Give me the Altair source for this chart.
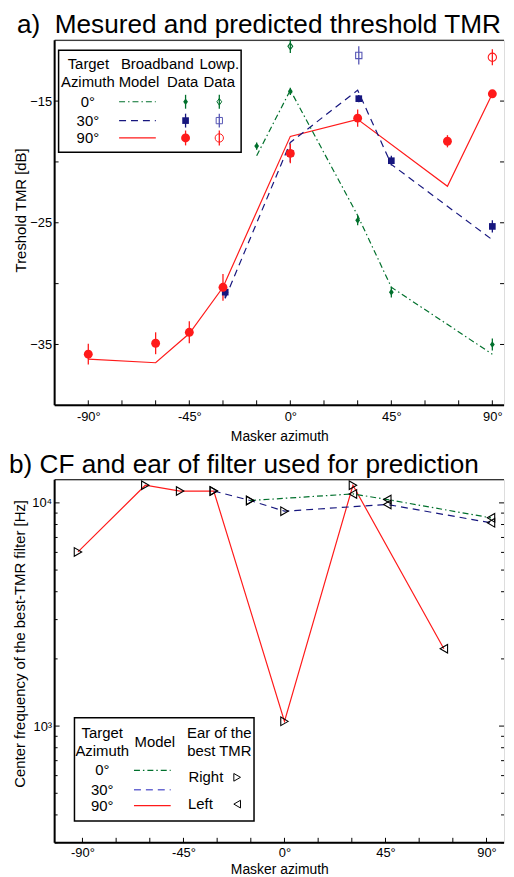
import altair as alt
import pandas as pd

FONT = "Liberation Sans"

# ---------------- Panel a) data ----------------
AZ_TICKS = [-90, -75, -60, -45, -30, -15, 0, 15, 30, 45, 60, 75, 90]
AZ_LABELS = [-90, -45, 0, 45, 90]
TMR_TICKS = [-15, -20, -25, -30, -35]
TMR_LABELS = [-15, -25, -35]

model0_x = [-15, 0, 30, 45, 90]
model0_y = [-19.5, -14.1, -24.4, -30.3, -35.8]
model30_x = [-29, 0, 30, 45, 90]
model30_y = [-31.2, -18.4, -14.1, -20.2, -26.4]
model90_x = [-90, -60, -45, -30, 0, 30, 70, 90]
model90_y = [-36.2, -36.5, -34.1, -30.3, -17.9, -16.5, -22.0, -14.4]

bb0_x = [-15, 0, 30, 45, 90]
bb0_y = [-18.7, -14.2, -24.8, -30.7, -35.0]
bb0_e = [0.3, 0.3, 0.4, 0.45, 0.5]
bb30_x = [-29, 0, 30.5, 45, 90]
bb30_y = [-30.7, -19.3, -14.8, -19.9, -25.3]
bb30_e = [0.5, 0.7, 0.3, 0.4, 0.5]
bb90_x = [-90, -60, -45, -30, 0, 30, 70, 90]
bb90_y = [-35.8, -34.9, -34.0, -30.3, -19.3, -16.4, -18.3, -14.4]
bb90_e = [0.85, 0.9, 0.9, 1.1, 0.8, 0.7, 0.5, 0.3]

lp0_x = [0]
lp0_y = [-10.5]
lp0_e = [0.55]
lp30_x = [30.5]
lp30_y = [-11.25]
lp30_e = [0.75]
lp90_x = [90]
lp90_y = [-11.4]
lp90_e = [0.65]

# ---------------- Panel b) data ----------------
CF_MAJOR = [1000, 10000]
CF_MINOR = [300, 400, 500, 600, 700, 800, 900, 2000, 3000, 4000, 5000, 6000, 7000, 8000, 9000]

cf0_x = [-15.3, 30.5, 45.8, 92]
cf0_y = [10250, 10970, 10350, 8570]
cf0_ear = ["Right", "Left", "Left", "Left"]
cf30_x = [-31.5, -15.3, 0, 45.8, 92]
cf30_y = [11300, 10250, 9180, 9840, 8140]
cf30_ear = ["Right", "Right", "Right", "Left", "Left"]
cf90_x = [-92, -62, -46.5, -31.5, 0, 30.5, 71]
cf90_y = [6030, 12000, 11300, 11300, 1050, 12000, 2220]
cf90_ear = ["Right", "Right", "Right", "Right", "Right", "Right", "Left"]

TITLE_A = "a)\u00a0 Mesured and predicted threshold TMR"
TITLE_B = "b) CF and ear of filter used for prediction"

# ---------------- styles ----------------
C0, C30, C90 = "#00702c", "#16167e", "#ff1a1a"
C30_OPEN = "#5656b4"
C30_LEG = "#6a6ad2"
D0, D30 = [6, 3, 1.5, 3], [7, 5]
W = 453
H1, H2 = 368, 366
XS_A = alt.Scale(domain=[-105, 95.2], nice=False, zero=False)
YS_A = alt.Scale(domain=[-40, -10], nice=False, zero=False)
XS_B = alt.Scale(domain=[-102.4, 97.8], nice=False, zero=False)
YS_B = alt.Scale(type="log", domain=[300, 12700], nice=False)
DIAMOND = "M0,-1L0.72,0L0,1L-0.72,0Z"
LEG_FS = 15

one = pd.DataFrame({"k": [0]})


def df(xs, ys, **extra):
    d = pd.DataFrame({"x": xs, "y": ys})
    for k, v in extra.items():
        d[k] = v
    return d


def hrule(x1, x2, y, color="black", width=1.0, dash=None):
    kw = dict(color=color, strokeWidth=width)
    if dash:
        kw["strokeDash"] = dash
    return alt.Chart(one).mark_rule(**kw).encode(
        x=alt.value(x1), x2=alt.value(x2), y=alt.value(y))


def vrule(x, y1, y2, color="black", width=1.0):
    return alt.Chart(one).mark_rule(color=color, strokeWidth=width).encode(
        x=alt.value(x), y=alt.value(y1), y2=alt.value(y2))


def txt(s, x, y, size=LEG_FS, align="center", baseline="middle"):
    return alt.Chart(one).mark_text(text=s, font=FONT, fontSize=size, align=align,
                                    baseline=baseline, color="black").encode(
        x=alt.value(x), y=alt.value(y))


def sym(x, y, shape, color, filled, size, sw=1.0):
    return alt.Chart(one).mark_point(shape=shape, filled=filled, color=color, size=size,
                                     strokeWidth=sw, opacity=1).encode(
        x=alt.value(x), y=alt.value(y))


def frame(h):
    return [vrule(0, 0, h, width=2), hrule(0, W, h, width=2), hrule(0, W, 0, width=1)]


def mk_axis(values, expr, title, lpad, tpad, tsize=14, title_y=None):
    kw = {}
    if title_y is not None:
        kw["titleY"] = title_y
    return alt.Axis(values=values, labelExpr=expr, ticks=False, domain=False, grid=False,
                    labelFont=FONT, labelFontSize=13, labelColor="black", labelPadding=lpad,
                    title=title, titleFont=FONT, titleFontSize=tsize, titleFontWeight="normal",
                    titleColor="black", titlePadding=tpad, **kw)


AX_XA = mk_axis(AZ_LABELS, "datum.value + '°'", "Masker azimuth", 5, 6)
AX_YA = mk_axis(TMR_LABELS, "datum.label", "Treshold TMR [dB]", 3, 1, 15, 171)
AX_XB = mk_axis(AZ_LABELS, "datum.value + '°'", "Masker azimuth", 4, 3)
AX_YB = mk_axis(CF_MAJOR, "datum.value == 1000 ? '10³' : '10⁴'",
                "Center frequency of the best-TMR filter [Hz]", 3, 4, 15, 165)


def X(field, scale, ax):
    return alt.X(field, type="quantitative", scale=scale, axis=ax)


def Y(field, scale, ax):
    return alt.Y(field, type="quantitative", scale=scale, axis=ax)


# ---------------- Panel a ----------------
def ya_ticks():
    d = pd.DataFrame({"v": TMR_TICKS})
    left = alt.Chart(d).mark_rule(color="black").encode(
        y=Y("v", YS_A, AX_YA), x=alt.value(0), x2=alt.value(4))
    right = alt.Chart(d).mark_rule(color="black").encode(
        y=Y("v", YS_A, AX_YA), x=alt.value(W - 4), x2=alt.value(W))
    return [left, right]


def x_ticks(xs, ax, h):
    d = pd.DataFrame({"v": AZ_TICKS})
    return alt.Chart(d).mark_rule(color="black").encode(
        x=X("v", xs, ax), y=alt.value(h - 5), y2=alt.value(h))


def model_line(xs, ys, color, dash=None):
    kw = dict(color=color, strokeWidth=1.2)
    if dash:
        kw["strokeDash"] = dash
    return alt.Chart(df(xs, ys)).mark_line(**kw).encode(
        x=X("x", XS_A, AX_XA), y=Y("y", YS_A, AX_YA))


def errbars(xs, ys, es, color):
    d = df(xs, ys)
    d["lo"] = [y - e for y, e in zip(ys, es)]
    d["hi"] = [y + e for y, e in zip(ys, es)]
    return alt.Chart(d).mark_rule(color=color, strokeWidth=1.3).encode(
        x=X("x", XS_A, AX_XA), y=Y("lo", YS_A, AX_YA), y2="hi:Q")


def markers(xs, ys, shape, color, filled, size):
    return alt.Chart(df(xs, ys)).mark_point(shape=shape, filled=filled, color=color, size=size,
                                            strokeWidth=1.1, opacity=1).encode(
        x=X("x", XS_A, AX_XA), y=Y("y", YS_A, AX_YA))


legend_a = [
    alt.Chart(one).mark_rect(fill="white", stroke="black", strokeWidth=1.5).encode(
        x=alt.value(4), x2=alt.value(188), y=alt.value(10), y2=alt.value(113)),
    txt("Target", 34, 24), txt("Azimuth", 33.5, 42),
    txt("Broadband", 103.5, 24), txt("Model", 85, 42),
    txt("Lowp.", 166, 24), txt("Data", 129, 42), txt("Data", 166, 42),
    txt("0°", 33.5, 62), txt("30°", 33.5, 81), txt("90°", 33.5, 98.5),
    hrule(65, 102, 62, C0, 1.2, D0), hrule(65, 102, 81, C30, 1.2, D30), hrule(65, 102, 98.5, C90, 1.2),
    vrule(132, 55, 69, C0, 1.3), sym(132, 62, DIAMOND, C0, True, 45),
    vrule(166, 55, 69, C0, 1.3), sym(166, 62, DIAMOND, C0, False, 45),
    vrule(132, 74, 88, C30, 1.3), sym(132, 81, "square", C30, True, 45),
    vrule(166, 74, 88, C30_OPEN, 1.3), sym(166, 81, "square", C30_OPEN, False, 40),
    vrule(132, 91, 106, C90, 1.3), sym(132, 98.5, "circle", C90, True, 80),
    vrule(166, 91, 106, C90, 1.3), sym(166, 98.5, "circle", C90, False, 70),
]

layers_a = (
    [model_line(model90_x, model90_y, C90),
     model_line(model30_x, model30_y, C30, D30),
     model_line(model0_x, model0_y, C0, D0)]
    + frame(H1) + ya_ticks() + [x_ticks(XS_A, AX_XA, H1)]
    + [errbars(bb0_x, bb0_y, bb0_e, C0), errbars(lp0_x, lp0_y, lp0_e, C0),
       errbars(bb30_x, bb30_y, bb30_e, C30), errbars(lp30_x, lp30_y, lp30_e, C30_OPEN),
       errbars(bb90_x, bb90_y, bb90_e, C90), errbars(lp90_x, lp90_y, lp90_e, C90),
       markers(bb0_x, bb0_y, DIAMOND, C0, True, 45),
       markers(lp0_x, lp0_y, DIAMOND, C0, False, 45),
       markers(bb30_x, bb30_y, "square", C30, True, 45),
       markers(lp30_x, lp30_y, "square", C30_OPEN, False, 40),
       markers(bb90_x, bb90_y, "circle", C90, True, 80),
       markers(lp90_x, lp90_y, "circle", C90, False, 70)]
    + legend_a
    + [txt(TITLE_A, -38, -28, size=26.4, align="left", baseline="top")]
)

panel_a = alt.layer(*layers_a).properties(width=W, height=H1)


# ---------------- Panel b ----------------
def yb_ticks():
    out = []
    for vals, ln in ((CF_MAJOR, 5), (CF_MINOR, 3)):
        d = pd.DataFrame({"v": vals})
        out.append(alt.Chart(d).mark_rule(color="black").encode(
            y=Y("v", YS_B, AX_YB), x=alt.value(0), x2=alt.value(ln)))
        out.append(alt.Chart(d).mark_rule(color="black").encode(
            y=Y("v", YS_B, AX_YB), x=alt.value(W - ln), x2=alt.value(W)))
    return out


def cf_line(xs, ys, color, dash=None):
    kw = dict(color=color, strokeWidth=1.2)
    if dash:
        kw["strokeDash"] = dash
    return alt.Chart(df(xs, ys)).mark_line(**kw).encode(
        x=X("x", XS_B, AX_XB), y=Y("y", YS_B, AX_YB), order="x:Q")


SHAPES = alt.Scale(domain=["Right", "Left"], range=["triangle-right", "triangle-left"])


def cf_markers(xs, ys, ears):
    return alt.Chart(df(xs, ys, ear=ears)).mark_point(filled=False, color="black", size=75,
                                                      strokeWidth=1.1, opacity=1).encode(
        x=X("x", XS_B, AX_XB), y=Y("y", YS_B, AX_YB),
        shape=alt.Shape("ear:N", scale=SHAPES, legend=None),
    )


legend_b = [
    alt.Chart(one).mark_rect(fill="white", stroke="black", strokeWidth=1.5).encode(
        x=alt.value(20), x2=alt.value(201), y=alt.value(240), y2=alt.value(344)),
    txt("Target", 48, 255), txt("Azimuth", 48, 273), txt("Model", 101, 264),
    txt("Ear of the", 166, 255), txt("best TMR", 166, 273),
    txt("0°", 48, 293), txt("30°", 48, 312.5), txt("90°", 48, 328.5),
    hrule(80, 117, 293, C0, 1.2, D0), hrule(80, 117, 312.5, C30_LEG, 1.4, D30),
    hrule(80, 117, 328.5, C90, 1.2),
    txt("Right", 152.5, 300), txt("Left", 147, 327),
    sym(184, 300, "triangle-right", "black", False, 60),
    sym(184, 327, "triangle-left", "black", False, 60),
]

layers_b = (
    [cf_line(cf90_x, cf90_y, C90),
     cf_line(cf30_x, cf30_y, C30, D30),
     cf_line(cf0_x, cf0_y, C0, D0)]
    + frame(H2) + yb_ticks() + [x_ticks(XS_B, AX_XB, H2)]
    + [cf_markers(cf90_x, cf90_y, cf90_ear),
       cf_markers(cf30_x, cf30_y, cf30_ear),
       cf_markers(cf0_x, cf0_y, cf0_ear)]
    + legend_b
    + [txt(TITLE_B, -46, -28, size=26.4, align="left", baseline="top")]
)

panel_b = alt.layer(*layers_b).properties(width=W, height=H2)

chart = alt.vconcat(panel_a, panel_b, spacing=7).properties(
    padding={"left": 0, "top": 0, "right": 0, "bottom": 0}
).configure_view(stroke=None).configure(background="white")

chart.save("out.html", embed_options={"renderer": "svg", "actions": False})
